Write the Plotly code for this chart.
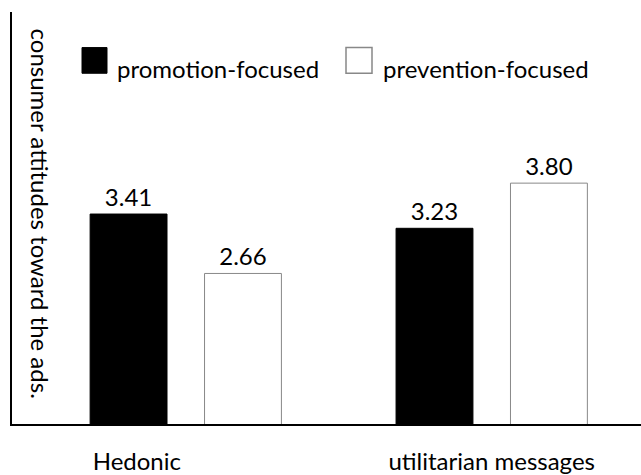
import plotly.graph_objects as go

categories = ["Hedonic", "utilitarian messages"]
series_names = ["promotion-focused", "prevention-focused"]
promotion = [3.41, 3.23]
prevention = [2.66, 3.80]
y_title = "consumer attitudes toward the ads."

W, H = 641, 475
L, R, T, B = 12, 0, 12, 46
PW, PH = W - L - R, H - T - B

def px(x):
    return (x - L) / PW

def py(y):
    return (H - B - y) / PH

FONT = "Lato, 'Noto Sans', sans-serif"
xs = list(range(len(categories)))

fig = go.Figure()
fig.add_trace(go.Bar(
    x=xs, y=promotion, name=series_names[0],
    marker=dict(color="black", line=dict(color="black", width=1)),
    text=[f"{v:.2f}" for v in promotion], textposition="outside",
    textfont=dict(size=24, color="black", family=FONT), cliponaxis=False,
))
fig.add_trace(go.Bar(
    x=xs, y=prevention, name=series_names[1],
    marker=dict(color="white", line=dict(color="#888888", width=1)),
    text=[f"{v:.2f}" for v in prevention], textposition="outside",
    textfont=dict(size=24, color="black", family=FONT), cliponaxis=False,
))

# manual legend (large swatches)
shapes = [
    dict(type="rect", xref="paper", yref="paper", x0=px(82), x1=px(107), y0=py(74), y1=py(48),
         fillcolor="black", line=dict(color="black", width=1)),
    dict(type="rect", xref="paper", yref="paper", x0=px(346), x1=px(372), y0=py(74), y1=py(48),
         fillcolor="white", line=dict(color="#888888", width=1.5)),
]
annotations = [
    dict(text=series_names[0], xref="paper", yref="paper", x=px(115), y=py(69), xanchor="left",
         yanchor="middle", showarrow=False, font=dict(size=24, color="black", family=FONT)),
    dict(text=series_names[1], xref="paper", yref="paper", x=px(381), y=py(69), xanchor="left",
         yanchor="middle", showarrow=False, font=dict(size=24, color="black", family=FONT)),
    dict(text=y_title, xref="paper", yref="paper", x=px(40), y=py(216), xanchor="center",
         yanchor="middle", textangle=90, showarrow=False, font=dict(size=24, color="black", family=FONT)),
]

fig.update_layout(
    width=W, height=H, margin=dict(l=L, r=R, t=T, b=B),
    paper_bgcolor="white", plot_bgcolor="white",
    barmode="group", bargap=0.252, bargroupgap=0.328,
    showlegend=False, shapes=shapes, annotations=annotations,
    font=dict(family=FONT, color="black"),
)
fig.update_xaxes(range=[-0.568, 1.488], showline=True, linecolor="black", linewidth=1.5,
                 showgrid=False, zeroline=False, ticks="",
                 tickvals=[-0.16, 1.0], ticktext=categories,
                 tickfont=dict(size=24, color="black", family=FONT), ticklabelstandoff=15)
fig.update_yaxes(range=[0.76, 5.96], showline=True, linecolor="black", linewidth=1.5,
                 showgrid=False, zeroline=False, showticklabels=False, ticks="")

fig.write_html("out.html")
